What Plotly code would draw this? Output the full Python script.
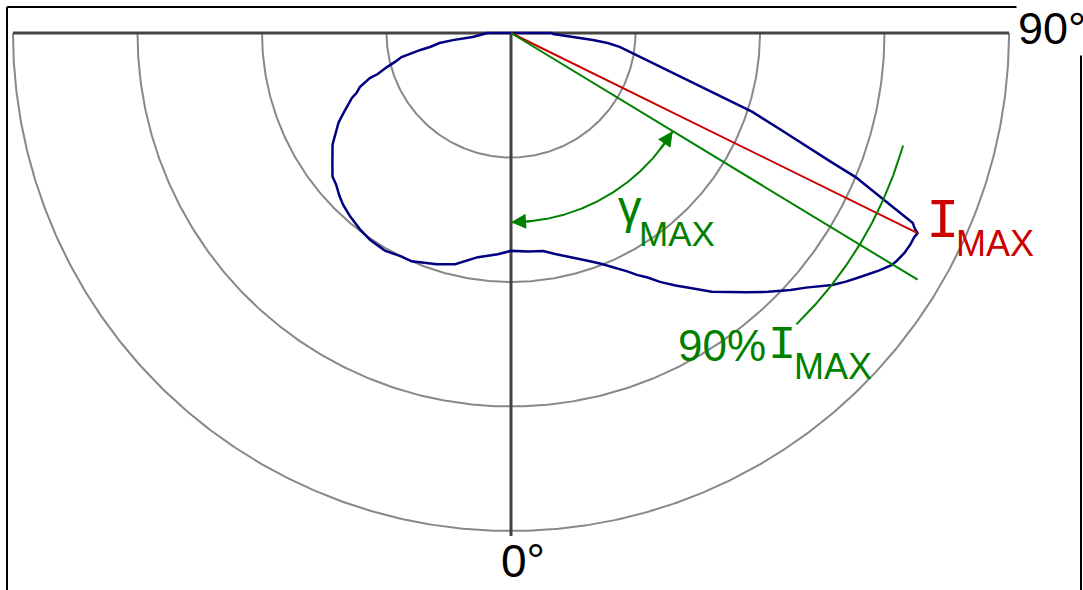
import numpy as np
import plotly.graph_objects as go

# Polar luminous intensity curve: gamma measured from nadir (0°) towards 90°
gamma_deg = [-90, -90, -84, -83, -82, -80.2, -79.4, -78.3, -77.6, -76, -74.7, -72.9,
             -72.3, -70.3, -68.8, -67.8, -66.9, -65.8, -64.5, -62.6, -60.3, -58, -54.6,
             -51.2, -49, -46.5, -44.3, -41.2, -37.5, -34.3, -30.1, -26.2, -23.5, -17.8,
             -13.6, -8.4, -3.4, 0, 4.5, 8.4, 11.3, 16.1, 19.1, 21.3, 23.9, 26, 27.5, 29.2,
             30.9, 33.1, 35.5, 37.8, 42.2, 44.8, 47.4, 49.2, 51.9, 53.4, 54.8, 55.9, 57.2,
             58.6, 59.5, 60.8, 62.1, 63.1, 63.8, 64.2, 64.7, 65.45, 66.35, 67.3, 68.1,
             69.2, 70.4, 71.9, 73.1, 74.7, 77.0, 80.4, 82.7, 84.1, 85.1, 86.3, 88.6, 90, 90]
intensity_cd = [0, 19, 31, 47, 58, 66, 74, 83, 90, 96, 103, 112,
                119, 129, 133, 138, 141, 145, 149, 156, 162, 169, 176,
                184, 186, 190, 193, 196, 199, 201, 202, 200, 200, 195,
                191, 182, 178, 175, 176, 177, 181, 188, 194, 199, 206, 213, 219, 225,
                233, 242, 252, 263, 281, 293, 305, 313, 328, 335, 341, 346, 352,
                358, 360, 362, 363, 363, 364, 360, 357, 338, 318, 300, 276,
                252, 228, 204, 178, 152, 127, 101, 88, 78, 66, 50, 34, 33, 0]

ring_values = [100, 200, 300, 400]   # grid circles (cd)
gamma_max_deg = 58.75                # direction marked as gamma_MAX
gamma_line_len = 382                 # length of the gamma_MAX ray
gamma_arc_radius = 152               # radius of the angle arrow arc
i90_arc_span = [44.4, 74.0]          # angular extent of the 90 % Imax arc
i90_fraction = 0.9

W, H = 1083, 590
PX_PER_CD = 1.245
CX, CY = 511, 33                      # pixel position of the pole

GRID = "#888888"
AXIS = "#444444"
BLUE = "#000080"
RED = "#cc0000"
GREEN = "#008000"


def polar_xy(g, r):
    g = np.radians(np.asarray(g, dtype=float))
    r = np.asarray(r, dtype=float)
    return r * np.sin(g), -r * np.cos(g)


def arc(r, g0, g1, n=200):
    g = np.linspace(g0, g1, n)
    return polar_xy(g, np.full(n, r))


def px(x):
    return x / W


def py(y):
    return 1 - y / H


fig = go.Figure()

# grid circles
for rv in ring_values:
    x, y = arc(rv, -90, 90, 361)
    fig.add_trace(go.Scatter(x=x, y=y, mode="lines",
                             line=dict(color=GRID, width=2), hoverinfo="skip"))

# horizontal and vertical axes through the pole
rmax = ring_values[-1]
fig.add_trace(go.Scatter(x=[-rmax, rmax], y=[0, 0], mode="lines",
                         line=dict(color=AXIS, width=3), hoverinfo="skip"))
fig.add_trace(go.Scatter(x=[0, 0], y=[0, -rmax - 4], mode="lines",
                         line=dict(color=AXIS, width=3), hoverinfo="skip"))

# intensity curve
cx_, cy_ = polar_xy(gamma_deg, intensity_cd)
fig.add_trace(go.Scatter(x=cx_, y=cy_, mode="lines",
                         line=dict(color=BLUE, width=2.5), hoverinfo="skip"))

# Imax ray
i_max = max(intensity_cd)
g_imax = gamma_deg[intensity_cd.index(i_max)]
rx, ry = polar_xy([g_imax, g_imax], [0, i_max])
fig.add_trace(go.Scatter(x=rx, y=ry, mode="lines",
                         line=dict(color=RED, width=2), hoverinfo="skip"))

# gamma_MAX ray
gx, gy = polar_xy([gamma_max_deg, gamma_max_deg], [0, gamma_line_len])
fig.add_trace(go.Scatter(x=gx, y=gy, mode="lines",
                         line=dict(color=GREEN, width=2), hoverinfo="skip"))

# 90 % Imax arc
ax_, ay_ = arc(i90_fraction * i_max, i90_arc_span[0], i90_arc_span[1])
fig.add_trace(go.Scatter(x=ax_, y=ay_, mode="lines",
                         line=dict(color=GREEN, width=2), hoverinfo="skip"))

# gamma_MAX angle arc with arrowheads at both ends
bx, by = arc(gamma_arc_radius, 0, gamma_max_deg)
fig.add_trace(go.Scatter(x=bx, y=by, mode="lines",
                         line=dict(color=GREEN, width=2), hoverinfo="skip"))

annotations = []
for head, tail in [(0, 7), (gamma_max_deg, gamma_max_deg - 7)]:
    hx, hy = polar_xy(head, gamma_arc_radius)
    tx, ty = polar_xy(tail, gamma_arc_radius)
    annotations.append(dict(x=float(hx), y=float(hy), ax=float(tx), ay=float(ty),
                            xref="x", yref="y", axref="x", ayref="y", text="",
                            showarrow=True, arrowhead=2, arrowsize=1.5,
                            arrowwidth=2, arrowcolor=GREEN, standoff=0))

SANS = "Liberation Sans, Arial, sans-serif"
MONO = "Liberation Mono, DejaVu Sans Mono, monospace"


def label(text, x, y, size, color, family=SANS, bg=None):
    d = dict(text=text, x=px(x), y=py(y), xref="paper", yref="paper",
             xanchor="left", yanchor="middle", showarrow=False,
             font=dict(family=family, size=size, color=color))
    if bg:
        d["bgcolor"] = bg
    annotations.append(d)


label("90°", 1016, 28, 45, "black", bg="white")
label("0°", 499, 561, 46, "black")
label("γ", 616, 206, 47, GREEN)
label("MAX", 637, 233, 35, GREEN)
label("I", 924, 222, 56, RED, MONO)
label("MAX", 954, 243, 36, RED)
label("90%", 676, 345, 44, GREEN)
label("I", 766, 345, 47, GREEN, MONO)
label("MAX", 792, 366, 36, GREEN)

# frame around the diagram
shapes = [
    dict(type="line", xref="paper", yref="paper", x0=px(7), x1=px(7), y0=py(7), y1=py(H + 5),
         line=dict(color="black", width=2)),
    dict(type="line", xref="paper", yref="paper", x0=px(7), x1=px(1020), y0=py(7), y1=py(7),
         line=dict(color="black", width=2)),
    dict(type="line", xref="paper", yref="paper", x0=px(1081), x1=px(1081), y0=py(7), y1=py(H + 5),
         line=dict(color="black", width=2)),
]

fig.update_layout(
    width=W, height=H,
    margin=dict(l=0, r=0, t=0, b=0),
    paper_bgcolor="white", plot_bgcolor="white",
    showlegend=False,
    xaxis=dict(visible=False, range=[-CX / PX_PER_CD, (W - CX) / PX_PER_CD], fixedrange=True),
    yaxis=dict(visible=False, range=[(CY - H) / PX_PER_CD, CY / PX_PER_CD], fixedrange=True),
    annotations=annotations,
    shapes=shapes,
)

fig.write_html("out.html")
